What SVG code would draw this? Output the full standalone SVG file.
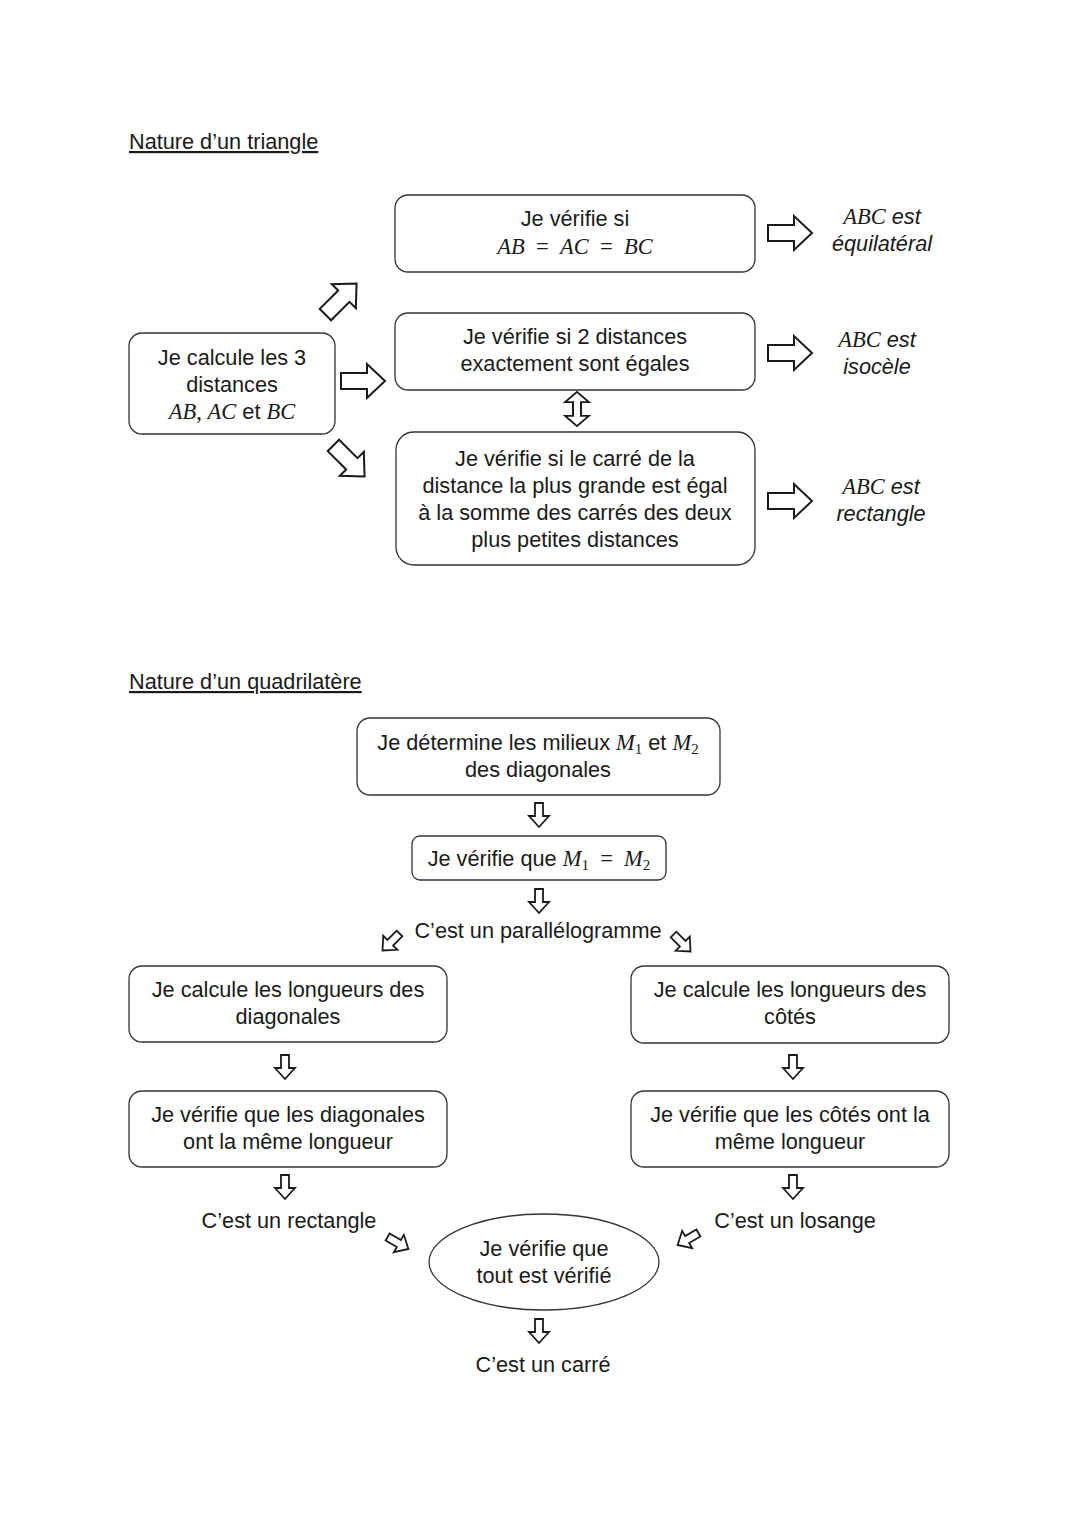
<svg xmlns="http://www.w3.org/2000/svg" xmlns:xlink="http://www.w3.org/1999/xlink" width="1080" height="1527" viewBox="0 0 1080 1527">
<style>
.t{font-family:"Liberation Sans",Arial,sans-serif;font-size:21.7px;fill:#1a1a1a;text-anchor:middle}
.h{font-family:"Liberation Sans",Arial,sans-serif;font-size:21.7px;fill:#1a1a1a;text-decoration:underline}
.m{font-family:"Liberation Serif","Times New Roman",serif;font-style:italic;font-size:22.5px}
.n{font-family:"Liberation Serif","Times New Roman",serif;font-style:normal;font-size:22.5px}
.s{font-family:"Liberation Serif","Times New Roman",serif;font-style:normal;font-size:15px}
.i{font-style:italic}
.box{fill:#fff;stroke:#333;stroke-width:1.3}
.ar{fill:#fff;stroke:#1a1a1a;stroke-width:2;stroke-linejoin:miter}
.sa{fill:#fff;stroke:#1a1a1a;stroke-width:1.8;stroke-linejoin:miter}
</style>
<defs>
<path id="bigR" d="M-22,-8 H4 V-17 L22,0 L4,17 V8 H-22 Z"/>
<path id="dbl" d="M-4,-8 H-12 L0,-20 L12,-8 H4 V8 H12 L0,20 L-12,8 H-4 Z"/>
<path id="smD" d="M-4,-12 H4 V1 H10 L0,12 L-10,1 H-4 Z"/>
</defs>
<rect width="1080" height="1527" fill="#fff"/>

<text class="h" x="129" y="149">Nature d’un triangle</text>
<text class="h" x="129" y="689">Nature d’un quadrilatère</text>

<g id="connectors">
<use href="#bigR" class="ar" transform="translate(341,299) rotate(-45)"/>
<use href="#bigR" class="ar" transform="translate(363,381)"/>
<use href="#bigR" class="ar" transform="translate(349,461) rotate(45)"/>
<use href="#bigR" class="ar" transform="translate(790,233)"/>
<use href="#bigR" class="ar" transform="translate(790,353)"/>
<use href="#bigR" class="ar" transform="translate(790,501)"/>
<use href="#dbl" class="ar" transform="translate(577,409) scale(1,0.85)"/>
<use href="#smD" class="sa" transform="translate(539,815)"/>
<use href="#smD" class="sa" transform="translate(539,901)"/>
<use href="#smD" class="sa" transform="translate(391,942) rotate(45)"/>
<use href="#smD" class="sa" transform="translate(682,943) rotate(-45)"/>
<use href="#smD" class="sa" transform="translate(285,1067)"/>
<use href="#smD" class="sa" transform="translate(793,1067)"/>
<use href="#smD" class="sa" transform="translate(285,1187)"/>
<use href="#smD" class="sa" transform="translate(793,1187)"/>
<use href="#smD" class="sa" transform="translate(398,1243) rotate(-60)"/>
<use href="#smD" class="sa" transform="translate(688,1239) rotate(60)"/>
<use href="#smD" class="sa" transform="translate(539,1331)"/>
</g>

<g id="n-left">
<rect class="box" x="129" y="333" width="206" height="101" rx="13"/>
<text class="t" x="232" y="365">Je calcule les 3</text>
<text class="t" x="232" y="392">distances</text>
<text class="t" x="232" y="419"><tspan class="m">AB</tspan><tspan class="n">, </tspan><tspan class="m">AC</tspan> et <tspan class="m">BC</tspan></text>
</g>

<g id="n-eq">
<rect class="box" x="395" y="195" width="360" height="77" rx="13"/>
<text class="t" x="575" y="226">Je vérifie si</text>
<text class="t" x="575" y="254" xml:space="preserve"><tspan class="m">AB</tspan><tspan class="n">  =  </tspan><tspan class="m">AC</tspan><tspan class="n">  =  </tspan><tspan class="m">BC</tspan></text>
</g>

<g id="n-iso">
<rect class="box" x="395" y="313" width="360" height="77" rx="13"/>
<text class="t" x="575" y="344">Je vérifie si 2 distances</text>
<text class="t" x="575" y="371">exactement sont égales</text>
</g>

<g id="n-rect">
<rect class="box" x="396" y="432" width="359" height="133" rx="18"/>
<text class="t" x="575" y="466">Je vérifie si le carré de la</text>
<text class="t" x="575" y="493">distance la plus grande est égal</text>
<text class="t" x="575" y="520">à la somme des carrés des deux</text>
<text class="t" x="575" y="547">plus petites distances</text>
</g>

<g id="r-eq">
<text class="t i" x="882" y="224"><tspan class="m">ABC</tspan> est</text>
<text class="t i" x="882" y="251">équilatéral</text>
</g>
<g id="r-iso">
<text class="t i" x="877" y="347"><tspan class="m">ABC</tspan> est</text>
<text class="t i" x="877" y="374">isocèle</text>
</g>
<g id="r-rect">
<text class="t i" x="881" y="494"><tspan class="m">ABC</tspan> est</text>
<text class="t i" x="881" y="521">rectangle</text>
</g>

<g id="q-mil">
<rect class="box" x="357" y="718" width="363" height="77" rx="13"/>
<text class="t" x="538" y="750">Je détermine les milieux <tspan class="m">M</tspan><tspan class="s" dy="4">1</tspan><tspan dy="-4"> et </tspan><tspan class="m">M</tspan><tspan class="s" dy="4">2</tspan></text>
<text class="t" x="538" y="777">des diagonales</text>
</g>

<g id="q-eq">
<rect class="box" x="412" y="836" width="254" height="44" rx="8"/>
<text class="t" x="539" y="866" xml:space="preserve">Je vérifie que <tspan class="m">M</tspan><tspan class="s" dy="4">1</tspan><tspan class="n" dy="-4">  =  </tspan><tspan class="m">M</tspan><tspan class="s" dy="4">2</tspan></text>
</g>

<g id="q-para">
<text class="t" x="538" y="938">C’est un parallélogramme</text>
</g>

<g id="q-diag">
<rect class="box" x="129" y="966" width="318" height="76" rx="13"/>
<text class="t" x="288" y="997">Je calcule les longueurs des</text>
<text class="t" x="288" y="1024">diagonales</text>
</g>

<g id="q-cot">
<rect class="box" x="631" y="966" width="318" height="77" rx="13"/>
<text class="t" x="790" y="997">Je calcule les longueurs des</text>
<text class="t" x="790" y="1024">côtés</text>
</g>

<g id="q-vdiag">
<rect class="box" x="129" y="1091" width="318" height="76" rx="13"/>
<text class="t" x="288" y="1122">Je vérifie que les diagonales</text>
<text class="t" x="288" y="1149">ont la même longueur</text>
</g>

<g id="q-vcot">
<rect class="box" x="631" y="1091" width="318" height="76" rx="13"/>
<text class="t" x="790" y="1122">Je vérifie que les côtés ont la</text>
<text class="t" x="790" y="1149">même longueur</text>
</g>

<g id="q-rectangle">
<text class="t" x="289" y="1228">C’est un rectangle</text>
</g>
<g id="q-losange">
<text class="t" x="795" y="1228">C’est un losange</text>
</g>

<g id="q-tout">
<ellipse class="box" cx="544" cy="1262" rx="115" ry="48"/>
<text class="t" x="544" y="1256">Je vérifie que</text>
<text class="t" x="544" y="1283">tout est vérifié</text>
</g>

<g id="q-carre">
<text class="t" x="543" y="1372">C’est un carré</text>
</g>
</svg>
